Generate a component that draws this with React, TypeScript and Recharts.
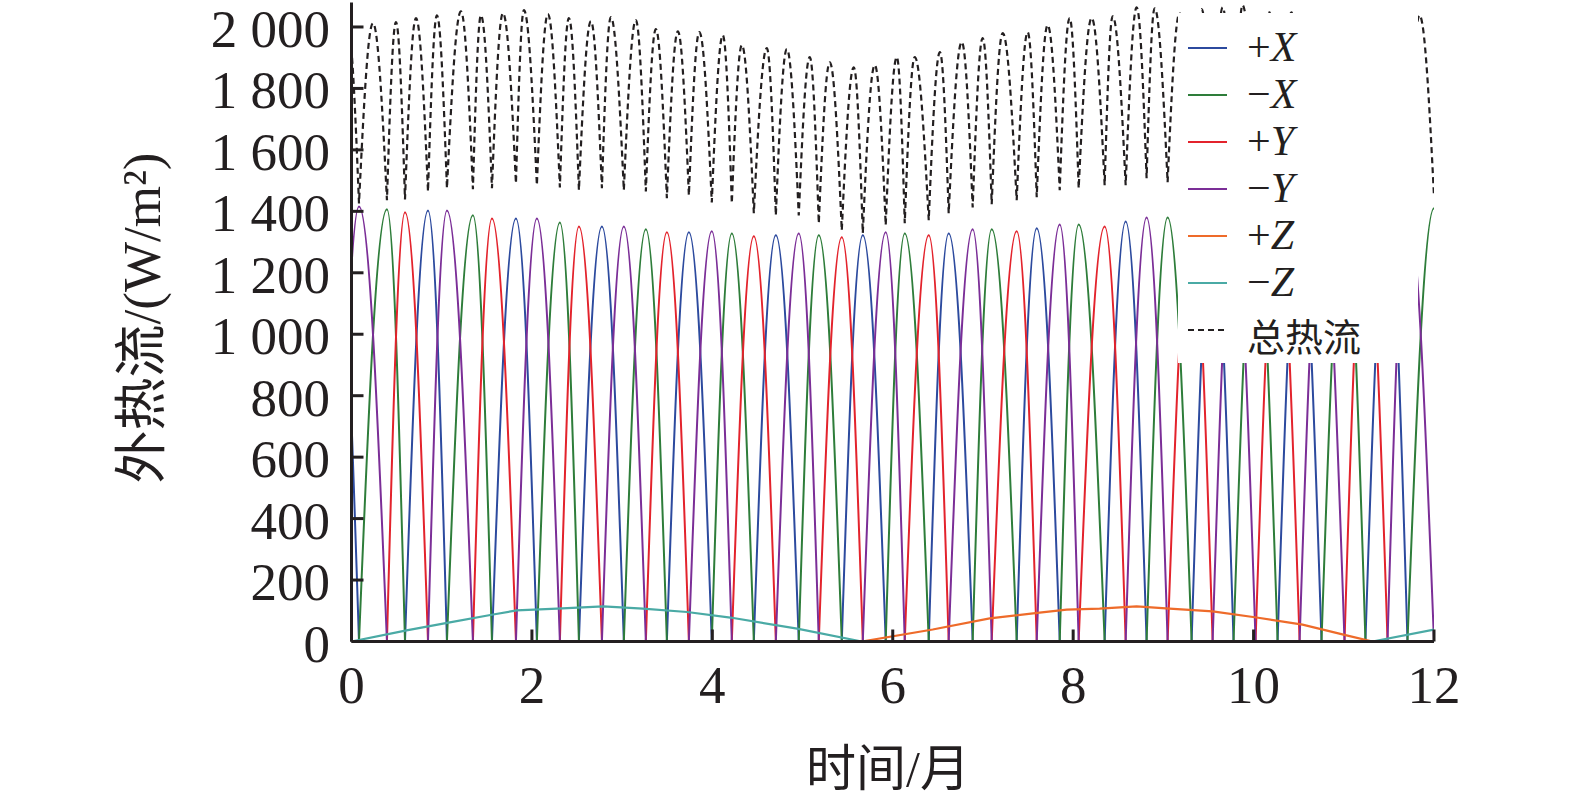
import React from "react";
import { LineChart, Line, XAxis, YAxis, Legend, Label } from "recharts";

const SERIF = "'Liberation Serif', 'Times New Roman', serif";
const CJK = "'Noto Sans CJK SC', 'Noto Sans CJK JP', sans-serif";
const INK = "#231f20";

// side-face peaks in time order; faces repeat as +X, -Y, -X, +Y
const faceCycle = ["+X", "−Y", "−X", "+Y"];
const peakTimes = [
  -0.161, 0.083, 0.393, 0.593, 0.848, 1.058, 1.346, 1.557, 1.823, 2.055,
  2.31, 2.521, 2.776, 3.019, 3.263, 3.496, 3.74, 3.994, 4.216, 4.46,
  4.704, 4.958, 5.18, 5.435, 5.668, 5.922, 6.133, 6.399, 6.62, 6.886,
  7.097, 7.374, 7.596, 7.851, 8.061, 8.349, 8.582, 8.814, 9.047, 9.313,
  9.546, 9.778, 10.022, 10.266, 10.51, 10.753, 11.008, 11.24, 11.485, 11.706,
  12.0,
];
const peakValues = [
  1415, 1416, 1407, 1397, 1403, 1403, 1387, 1377, 1377, 1377,
  1364, 1351, 1351, 1351, 1342, 1332, 1332, 1335, 1328, 1319,
  1322, 1328, 1322, 1316, 1322, 1332, 1328, 1322, 1328, 1342,
  1342, 1335, 1345, 1357, 1357, 1351, 1367, 1380, 1380, 1385,
  1390, 1395, 1400, 1400, 1405, 1405, 1410, 1410, 1415, 1415,
  1410,
];

// total flux: alternating maxima / minima
const totalTimes = [
  -0.04, 0.083, 0.238, 0.393, 0.493, 0.593, 0.715, 0.848, 0.947, 1.058,
  1.213, 1.346, 1.435, 1.557, 1.679, 1.823, 1.911, 2.055, 2.177, 2.31,
  2.41, 2.521, 2.654, 2.776, 2.875, 3.019, 3.152, 3.263, 3.374, 3.496,
  3.618, 3.74, 3.856, 3.994, 4.116, 4.216, 4.327, 4.46, 4.604, 4.704,
  4.826, 4.958, 5.08, 5.18, 5.302, 5.435, 5.568, 5.668, 5.801, 5.922,
  6.045, 6.133, 6.244, 6.399, 6.523, 6.62, 6.765, 6.886, 6.997, 7.097,
  7.219, 7.374, 7.496, 7.596, 7.717, 7.851, 7.961, 8.061, 8.205, 8.349,
  8.438, 8.582, 8.704, 8.814, 8.903, 9.047, 9.18, 9.313, 9.424, 9.546,
  9.657, 9.778, 9.878, 10.022, 10.177, 10.266, 10.421, 10.51, 10.643, 10.753,
  10.865, 11.008, 11.119, 11.24, 11.363, 11.485, 11.597, 11.706, 11.839, 12.0,
];
const totalValues = [
  1995, 1426, 2012, 1436, 2016, 1439, 2029, 1465, 2038, 1475,
  2051, 1472, 2038, 1475, 2045, 1491, 2055, 1485, 2042, 1478,
  2029, 1469, 2019, 1475, 2032, 1469, 2022, 1465, 1993, 1443,
  1986, 1452, 1983, 1429, 1973, 1426, 1941, 1394, 1931, 1387,
  1928, 1387, 1902, 1361, 1885, 1338, 1869, 1329, 1876, 1355,
  1902, 1361, 1902, 1371, 1918, 1394, 1951, 1413, 1964, 1423,
  1980, 1436, 1983, 1446, 2006, 1469, 2029, 1475, 2029, 1485,
  2035, 1485, 2064, 1508, 2061, 1495, 2045, 1500, 2058, 1500,
  2064, 1495, 2071, 1490, 2048, 1480, 2048, 1470, 2045, 1455,
  2038, 1445, 2030, 1430, 2025, 1420, 2025, 1425, 2038, 1450,
];

const plusZTimes = [5.657, 6.443, 7.075, 7.628, 7.928, 8.293, 8.703, 9.069, 9.546, 10.033, 10.543, 11.03, 11.318];
const plusZValues = [0, 39, 75, 94, 104, 107, 114, 107, 98, 78, 55, 20, 0];
const minusZTimes = [0, 0.61, 1.09, 1.57, 1.83, 2.28, 2.79, 3.23, 3.72, 4.2, 4.94, 5.657, 8.5, 11.318, 12];
const minusZValues = [0, 36, 62, 88, 101, 107, 114, 107, 96, 78, 42, 0, null, 0, 39];

const xTicks = [0, 2, 4, 6, 8, 10, 12];
const yTicks = [0, 200, 400, 600, 800, 1000, 1200, 1400, 1600, 1800, 2000];

const series = [
  { name: "+X", color: "#2c4a9e" },
  { name: "−X", color: "#2e7d3a" },
  { name: "+Y", color: "#e3232c" },
  { name: "−Y", color: "#7b2e97" },
  { name: "+Z", color: "#ee6b2a" },
  { name: "−Z", color: "#4aaaa5" },
  { name: "总热流", color: INK, dash: "6 4" },
];

const zip = (ts: number[], vs: (number | null)[]) => ts.map((t, i) => ({ t, v: vs[i] }));

// one arch per peak: zero at the previous peak, top at its own, zero at the next one
const faceData = (face: string) => {
  const pts: { t: number; v: number | null }[] = [];
  peakTimes.forEach((t, i) => {
    if (faceCycle[i % 4] !== face) return;
    if (i > 0) pts.push({ t: peakTimes[i - 1], v: 0 });
    pts.push({ t, v: peakValues[i] });
    if (i < peakTimes.length - 1) {
      pts.push({ t: peakTimes[i + 1], v: 0 });
      pts.push({ t: peakTimes[i + 1], v: null });
    }
  });
  return pts;
};

// rounded tops, sharp bottoms (cubic approximation of a quarter sine)
const archCurve = (context: any) => {
  let px = NaN;
  let py = NaN;
  let started = false;
  return {
    areaStart() {},
    areaEnd() {},
    lineStart() {
      started = false;
    },
    lineEnd() {},
    point(x: number, y: number) {
      if (!started) {
        context.moveTo(x, y);
        started = true;
      } else {
        const dx = x - px;
        const dy = y - py;
        if (Math.abs(dy) < 0.01) context.lineTo(x, y);
        else if (dy < 0) context.bezierCurveTo(px + dx * 0.3263, py + dy * 0.5126, x - dx * 0.362, y, x, y);
        else context.bezierCurveTo(px + dx * 0.362, py, x - dx * 0.3263, y - dy * 0.5126, x, y);
      }
      px = x;
      py = y;
    },
  };
};

const fmtY = (v: number) =>
  v >= 1000 ? `${Math.floor(v / 1000)} ${String(v % 1000).padStart(3, "0")}` : String(v);

const YTick = ({ x, y, payload }: any) => (
  <text x={x} y={y} dy={20} textAnchor="end" fontSize={53} fontFamily={SERIF} fill={INK}>
    {fmtY(payload.value)}
  </text>
);

const XTick = ({ x, y, payload }: any) => (
  <text x={x} y={y} dy={37.5} textAnchor="middle" fontSize={53} fontFamily={SERIF} fill={INK}>
    {payload.value}
  </text>
);

const LegendBox = ({ payload }: any) => {
  const items = series.filter((s) => (payload || []).some((p: any) => p.value === s.name));
  return (
    <svg width={240} height={350} style={{ display: "block", background: "#fff" }}>
      {items.map((s, i) => {
        const cy = 35 + i * 47;
        const signed = s.name.length === 2 && (s.name[0] === "+" || s.name[0] === "−");
        return (
          <g key={s.name}>
            <line x1={10} x2={49} y1={cy} y2={cy} stroke={s.color} strokeWidth={2} strokeDasharray={s.dash} />
            {signed ? (
              <text x={69} y={cy + 13} fontSize={42} fontFamily={SERIF} fill={INK}>
                {s.name[0]}
                <tspan fontStyle="italic">{s.name[1]}</tspan>
              </text>
            ) : (
              <text x={69} y={cy + 21} fontSize={38} fontFamily={CJK} fill={INK}>
                {s.name}
              </text>
            )}
          </g>
        );
      })}
    </svg>
  );
};

export default function App() {
  return (
    <div style={{ position: "absolute", left: 0, top: 0 }}>
      <style>{"body{margin:0;overflow:hidden}"}</style>
      <LineChart width={1575} height={806} margin={{ top: 2.4, right: 141, bottom: 0, left: 0 }}>
        <XAxis
          dataKey="t"
          type="number"
          domain={[0, 12]}
          ticks={xTicks}
          interval={0}
          allowDataOverflow
          height={164.5}
          tickSize={-12}
          tickMargin={36}
          axisLine={{ stroke: INK, strokeWidth: 3 }}
          tickLine={{ stroke: INK, strokeWidth: 3 }}
          tick={XTick}
        >
          <Label
            content={() => (
              <text x={888} y={786} textAnchor="middle" fontSize={50} fill={INK}>
                <tspan fontFamily={CJK}>时间</tspan>
                <tspan fontFamily={SERIF}>/</tspan>
                <tspan fontFamily={CJK}>月</tspan>
              </text>
            )}
          />
        </XAxis>
        <YAxis
          type="number"
          domain={[0, 2080]}
          ticks={yTicks}
          interval={0}
          allowDataOverflow
          width={351.5}
          tickSize={-12}
          tickMargin={33.5}
          axisLine={{ stroke: INK, strokeWidth: 3 }}
          tickLine={{ stroke: INK, strokeWidth: 3 }}
          tick={YTick}
        >
          <Label
            content={() => (
              <text
                transform="translate(160 318) rotate(-90)"
                textAnchor="middle"
                fontSize={53}
                fill={INK}
              >
                <tspan fontFamily={CJK}>外热流</tspan>
                <tspan fontFamily={SERIF}>/(W/m²)</tspan>
              </text>
            )}
          />
        </YAxis>
        {["+X", "−X", "+Y", "−Y"].map((face) => {
          const s = series.find((x) => x.name === face)!;
          return (
            <Line
              key={face}
              name={face}
              data={faceData(face)}
              dataKey="v"
              type={archCurve as any}
              stroke={s.color}
              strokeWidth={2}
              dot={false}
              activeDot={false}
              isAnimationActive={false}
            />
          );
        })}
        <Line
          name="+Z"
          data={zip(plusZTimes, plusZValues)}
          dataKey="v"
          type="linear"
          stroke={series[4].color}
          strokeWidth={2.2}
          dot={false}
          activeDot={false}
          isAnimationActive={false}
        />
        <Line
          name="−Z"
          data={zip(minusZTimes, minusZValues)}
          dataKey="v"
          type="linear"
          stroke={series[5].color}
          strokeWidth={2.2}
          dot={false}
          activeDot={false}
          isAnimationActive={false}
        />
        <Line
          name="总热流"
          data={zip(totalTimes, totalValues)}
          dataKey="v"
          type={archCurve as any}
          stroke={INK}
          strokeWidth={2.2}
          strokeDasharray="6 4"
          dot={false}
          activeDot={false}
          isAnimationActive={false}
        />
        <Legend
          layout="vertical"
          align="center"
          verticalAlign="middle"
          width={240}
          height={350}
          wrapperStyle={{ position: "absolute", left: 1178, top: 13, width: 240, height: 350 }}
          content={LegendBox}
        />
      </LineChart>
    </div>
  );
}
